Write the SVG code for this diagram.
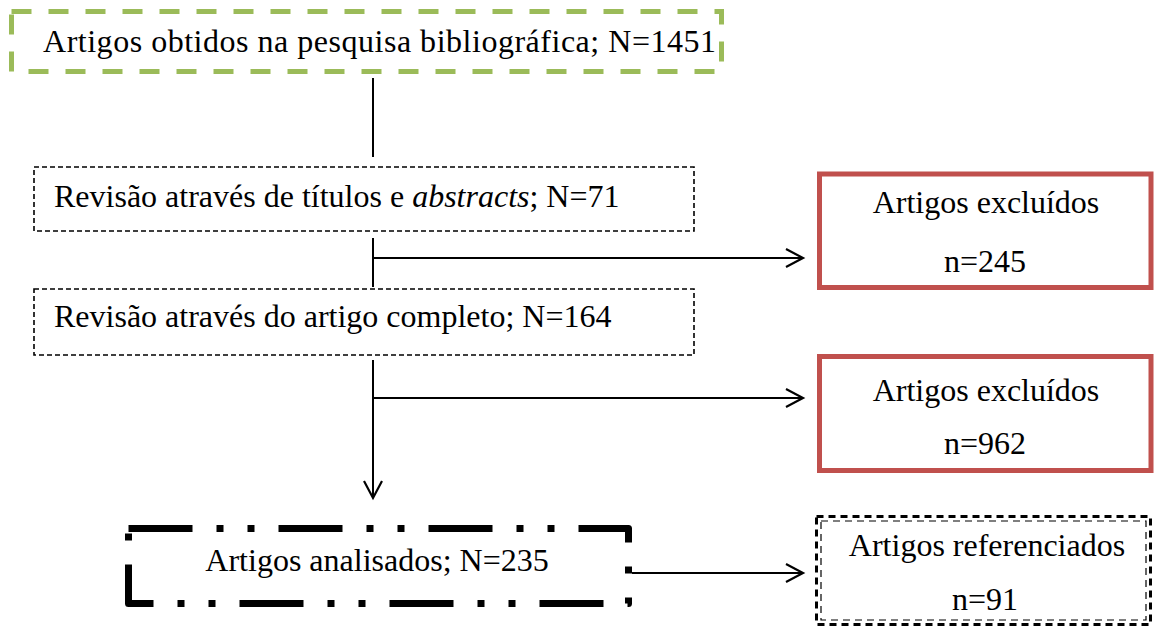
<svg xmlns="http://www.w3.org/2000/svg" width="1156" height="630" viewBox="0 0 1156 630">
<defs>
<style>
text{font-family:"Liberation Serif","Times New Roman",serif;font-size:32px;fill:#000}
.thin{fill:none;stroke:#000;stroke-width:1.6;stroke-dasharray:5 3}
.red{fill:#fff;stroke:#c0504d;stroke-width:5}
.conn{fill:none;stroke:#000;stroke-width:2}
</style>
<marker id="arr" markerUnits="userSpaceOnUse" markerWidth="24" markerHeight="24" viewBox="0 0 24 24" refX="20" refY="12" orient="auto">
<polyline points="3,3 20,12 3,21" fill="none" stroke="#000" stroke-width="2.2"/>
</marker>
</defs>
<rect width="1156" height="630" fill="#fff"/>
<g id="n1">
<rect x="11.5" y="11.5" width="710" height="60" fill="none" stroke="#9bbb59" stroke-width="5" stroke-dasharray="20 17"/>
<text x="43" y="52" textLength="673" lengthAdjust="spacing">Artigos obtidos na pesquisa bibliográfica; N=1451</text>
</g>
<g id="n2">
<rect x="34" y="167" width="660" height="64" class="thin"/>
<text x="54" y="207">Revisão através de títulos e <tspan font-style="italic">abstracts</tspan>; N=71</text>
</g>
<g id="n3">
<rect x="34" y="289" width="660" height="66" class="thin"/>
<text x="54" y="327">Revisão através do artigo completo; N=164</text>
</g>
<g id="n4">
<rect x="819.5" y="174" width="331.5" height="113.5" class="red"/>
<text x="986" y="213" text-anchor="middle">Artigos excluídos</text>
<text x="985" y="272" text-anchor="middle">n=245</text>
</g>
<g id="n5">
<rect x="819.5" y="356.5" width="331.5" height="114" class="red"/>
<text x="986" y="401" text-anchor="middle">Artigos excluídos</text>
<text x="985" y="454" text-anchor="middle">n=962</text>
</g>
<g id="n6">
<rect x="128.5" y="528.5" width="500" height="75" fill="none" stroke="#000" stroke-width="7" stroke-dasharray="64 24 7 24 7 24" stroke-linejoin="round"/>
<text x="377" y="571" text-anchor="middle">Artigos analisados; N=235</text>
</g>
<g id="n7">
<rect x="816.5" y="516.5" width="334" height="108" fill="none" stroke="#000" stroke-width="3" stroke-dasharray="7 5"/>
<rect x="821" y="521" width="325" height="99" fill="none" stroke="#000" stroke-width="1.2" stroke-dasharray="7 5"/>
<text x="987" y="556" text-anchor="middle">Artigos referenciados</text>
<text x="985" y="610" text-anchor="middle">n=91</text>
</g>
<g id="connectors">
<line x1="373" y1="78" x2="373" y2="157" class="conn"/>
<line x1="373" y1="238" x2="373" y2="287" class="conn"/>
<line x1="373" y1="258" x2="803" y2="258" class="conn" marker-end="url(#arr)"/>
<line x1="373" y1="360" x2="373" y2="498" class="conn" marker-end="url(#arr)"/>
<line x1="373" y1="398" x2="803" y2="398" class="conn" marker-end="url(#arr)"/>
<line x1="632" y1="573" x2="803" y2="573" class="conn" marker-end="url(#arr)"/>
</g>
</svg>
